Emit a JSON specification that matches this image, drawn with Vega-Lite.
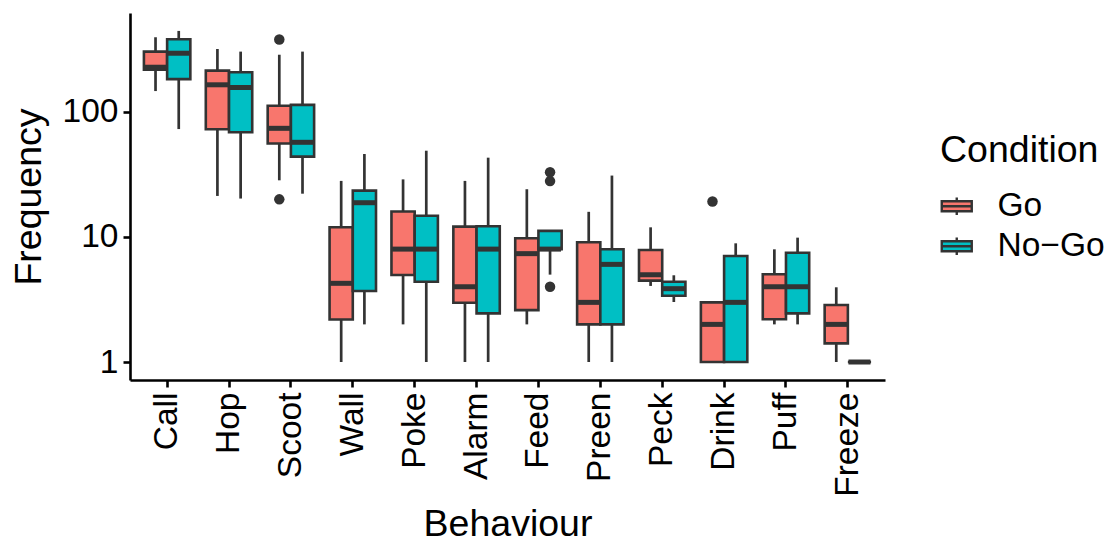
{
  "$schema": "https://vega.github.io/schema/vega-lite/v6.json",
  "autosize": "none",
  "width": 755,
  "height": 367,
  "padding": {"left": 130, "top": 13, "right": 223, "bottom": 165},
  "background": "white",
  "config": {
    "font": "Liberation Sans",
    "view": {"stroke": null},
    "axis": {"grid": false, "domainColor": "#000000", "domainWidth": 2.6, "tickColor": "#000000", "tickWidth": 2.6, "tickSize": 7, "labelColor": "#000000", "labelFontSize": 33.5, "titleFontSize": 37.5, "titleFontWeight": "normal", "titleColor": "#000000", "labelFont": "Liberation Sans", "titleFont": "Liberation Sans"},
    "legend": {"labelFont": "Liberation Sans", "titleFont": "Liberation Sans"}
  },
  "datasets": {
    "boxes": [
      {"Behaviour": "Call", "Condition": "Go", "lo": 147, "q1": 218, "med": 228, "q3": 304, "hi": 396},
      {"Behaviour": "Call", "Condition": "No-Go", "lo": 73, "q1": 183, "med": 295, "q3": 382, "hi": 445},
      {"Behaviour": "Hop", "Condition": "Go", "lo": 21.3, "q1": 72.7, "med": 165, "q3": 214, "hi": 319},
      {"Behaviour": "Hop", "Condition": "No-Go", "lo": 20.3, "q1": 68.8, "med": 157, "q3": 208, "hi": 304},
      {"Behaviour": "Scoot", "Condition": "Go", "lo": 28.4, "q1": 56, "med": 74, "q3": 112, "hi": 287},
      {"Behaviour": "Scoot", "Condition": "No-Go", "lo": 22.2, "q1": 43.9, "med": 57.2, "q3": 114, "hi": 304},
      {"Behaviour": "Wall", "Condition": "Go", "lo": 1, "q1": 2.19, "med": 4.26, "q3": 11.95, "hi": 28.1},
      {"Behaviour": "Wall", "Condition": "No-Go", "lo": 2, "q1": 3.7, "med": 18.8, "q3": 23.5, "hi": 46.1},
      {"Behaviour": "Poke", "Condition": "Go", "lo": 2, "q1": 4.97, "med": 8, "q3": 16, "hi": 28.9},
      {"Behaviour": "Poke", "Condition": "No-Go", "lo": 1, "q1": 4.39, "med": 8, "q3": 14.8, "hi": 49},
      {"Behaviour": "Alarm", "Condition": "Go", "lo": 1, "q1": 2.98, "med": 4, "q3": 12.1, "hi": 28.1},
      {"Behaviour": "Alarm", "Condition": "No-Go", "lo": 1, "q1": 2.45, "med": 8, "q3": 12.2, "hi": 43.1},
      {"Behaviour": "Feed", "Condition": "Go", "lo": 2, "q1": 2.6, "med": 7.36, "q3": 9.76, "hi": 24.1},
      {"Behaviour": "Feed", "Condition": "No-Go", "lo": 5, "q1": 8, "med": 8, "q3": 11.2, "hi": 11.2},
      {"Behaviour": "Preen", "Condition": "Go", "lo": 1, "q1": 2, "med": 3, "q3": 9.07, "hi": 15.9},
      {"Behaviour": "Preen", "Condition": "No-Go", "lo": 1, "q1": 2, "med": 6.04, "q3": 7.97, "hi": 31},
      {"Behaviour": "Peck", "Condition": "Go", "lo": 4.06, "q1": 4.48, "med": 5, "q3": 7.87, "hi": 11.95},
      {"Behaviour": "Peck", "Condition": "No-Go", "lo": 3.02, "q1": 3.39, "med": 3.86, "q3": 4.39, "hi": 4.94},
      {"Behaviour": "Drink", "Condition": "Go", "lo": 1, "q1": 1, "med": 2, "q3": 3, "hi": 3},
      {"Behaviour": "Drink", "Condition": "No-Go", "lo": 1, "q1": 1, "med": 3, "q3": 7.05, "hi": 8.9},
      {"Behaviour": "Puff", "Condition": "Go", "lo": 2, "q1": 2.2, "med": 4, "q3": 5.03, "hi": 7.97},
      {"Behaviour": "Puff", "Condition": "No-Go", "lo": 2, "q1": 2.45, "med": 4, "q3": 7.49, "hi": 9.88},
      {"Behaviour": "Freeze", "Condition": "Go", "lo": 1, "q1": 1.41, "med": 2, "q3": 2.86, "hi": 3.96},
      {"Behaviour": "Freeze", "Condition": "No-Go", "lo": 1, "q1": 1, "med": 1, "q3": 1, "hi": 1}
    ],
    "outliers": [
      {"Behaviour": "Scoot", "Condition": "Go", "value": 380},
      {"Behaviour": "Scoot", "Condition": "Go", "value": 20},
      {"Behaviour": "Feed", "Condition": "No-Go", "value": 33},
      {"Behaviour": "Feed", "Condition": "No-Go", "value": 28},
      {"Behaviour": "Feed", "Condition": "No-Go", "value": 4},
      {"Behaviour": "Drink", "Condition": "Go", "value": 19.2}
    ]
  },
  "encoding": {
    "x": {
      "field": "Behaviour", "type": "nominal",
      "sort": ["Call", "Hop", "Scoot", "Wall", "Poke", "Alarm", "Feed", "Preen", "Peck", "Drink", "Puff", "Freeze"],
      "scale": {"paddingInner": 0, "paddingOuter": 0.1},
      "axis": {"title": "Behaviour", "labelAngle": -90, "labelPadding": 5, "titlePadding": 9}
    },
    "xOffset": {
      "field": "Condition", "type": "nominal",
      "scale": {"domain": ["Go", "No-Go"], "paddingInner": 0, "paddingOuter": 0.333}
    }
  },
  "layer": [
    {
      "data": {"name": "boxes"},
      "mark": {"type": "rule", "color": "#333333", "strokeWidth": 2.7},
      "encoding": {
        "y": {"field": "lo", "type": "quantitative",
          "scale": {"type": "log", "domain": [0.718, 619], "nice": false},
          "axis": {"title": "Frequency", "values": [1, 10, 100], "format": "d", "labelPadding": 5, "titlePadding": 14}},
        "y2": {"field": "hi"}
      }
    },
    {
      "data": {"name": "boxes"},
      "mark": {"type": "bar", "stroke": "#333333", "strokeWidth": 2.6, "opacity": 1},
      "encoding": {
        "y": {"field": "q1", "type": "quantitative"},
        "y2": {"field": "q3"},
        "fill": {
          "field": "Condition", "type": "nominal",
          "scale": {"domain": ["Go", "No-Go"], "range": ["#F8766D", "#00BFC4"]},
          "legend": {
            "title": "Condition", "orient": "none", "legendX": 810, "legendY": 119,
            "titleFontSize": 37.5, "titleFontWeight": "normal", "titleColor": "#000000", "titlePadding": 20,
            "labelFontSize": 33.5, "labelColor": "#000000", "labelOffset": 24,
            "labelExpr": "replace(datum.label, '-', '\u2212')",
            "symbolType": "M-1,-0.33H1V0.33H-1Z M-1,0H1 M0,-0.33V-0.58 M0,0.33V0.58",
            "symbolSize": 900, "symbolStrokeColor": "#333333", "symbolStrokeWidth": 2.4, "symbolOpacity": 1,
            "rowPadding": 5, "padding": 0
          }
        }
      }
    },
    {
      "data": {"name": "boxes"},
      "mark": {"type": "tick", "color": "#333333", "thickness": 5, "size": 22, "opacity": 1},
      "encoding": {
        "y": {"field": "med", "type": "quantitative"}
      }
    },
    {
      "data": {"name": "outliers"},
      "mark": {"type": "point", "filled": true, "color": "#333333", "size": 110, "opacity": 1},
      "encoding": {
        "y": {"field": "value", "type": "quantitative"}
      }
    }
  ]
}
